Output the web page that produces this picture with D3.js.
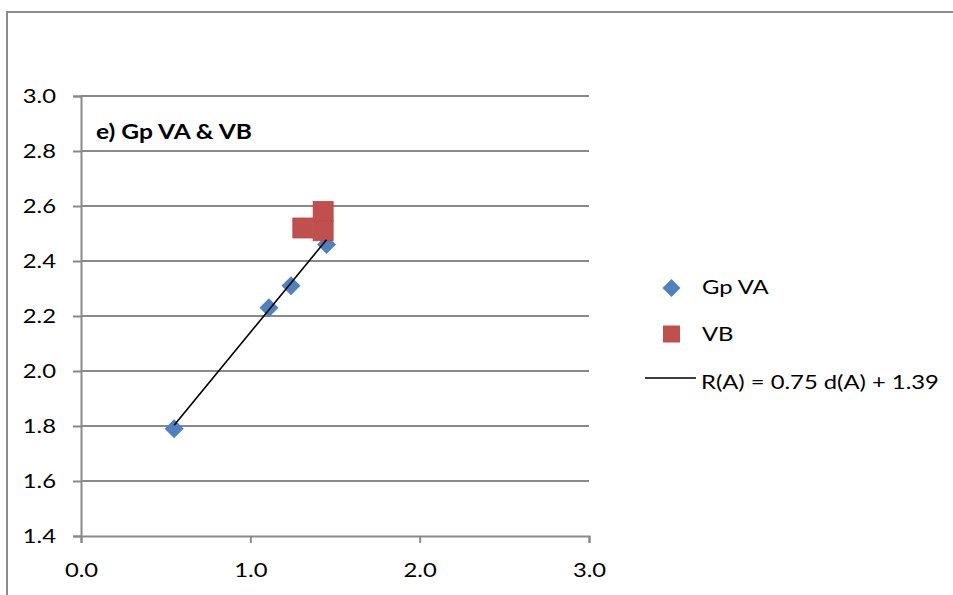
<!DOCTYPE html>
<html>
<head>
<meta charset="utf-8">
<script src="https://cdn.jsdelivr.net/npm/d3@7"></script>
<style>
  html, body { margin: 0; padding: 0; background: #fff; }
  svg { display: block; font-family: Lato, "Open Sans", sans-serif; }
</style>
</head>
<body>
<svg id="chart" width="953" height="595"></svg>
<script>
// Group VA and VB: R(A) plotted against d(A)
const vaD = [0.55, 1.11, 1.24, 1.45];
const vaR = [1.79, 2.23, 2.31, 2.46];
const vbD = [1.31, 1.43, 1.43];
const vbR = [2.52, 2.58, 2.51];

// Linear fit of the VA group
const fitSlope = 0.75;
const fitIntercept = 1.39;

const xTicks = [0, 1, 2, 3];
const yTicks = [1.4, 1.6, 1.8, 2.0, 2.2, 2.4, 2.6, 2.8, 3.0];

const seriesNames = ["Gp VA", "VB"];
const panelTitle = "e) Gp VA & VB";

const blue = "#4F81BD", red = "#C0504D", grid = "#898989";
const stretch = 1.19; // wide, Calibri-like text proportions

const svg = d3.select("#chart");

// outer chart frame
svg.append("path")
  .attr("d", "M7,595 L7,12 L953,12")
  .attr("fill", "none").attr("stroke", "#8c8c8c").attr("stroke-width", 2);

const x = d3.scaleLinear().domain([0, 3]).range([81, 589]);
const y = d3.scaleLinear().domain([1.4, 3.0]).range([536, 96]);

// horizontal gridlines
svg.append("g").selectAll("line")
  .data(yTicks.slice(1))
  .join("line")
  .attr("x1", x(0)).attr("x2", x(3))
  .attr("y1", d => y(d)).attr("y2", d => y(d))
  .attr("stroke", grid).attr("stroke-width", 2);

// y axis
const yAxis = svg.append("g")
  .attr("transform", `translate(${x(0)},0)`)
  .call(d3.axisLeft(y).tickValues(yTicks).tickFormat(d3.format(".1f")).tickSize(8).tickPadding(13));
yAxis.select(".domain").attr("stroke", grid).attr("stroke-width", 2);
yAxis.selectAll(".tick line").attr("stroke", grid).attr("stroke-width", 2);
yAxis.selectAll(".tick text")
  .attr("font-family", "Lato, sans-serif").attr("font-size", 20).attr("fill", "#000")
  .attr("transform", `scale(${stretch},1)`);

// x axis
const xAxis = svg.append("g")
  .attr("transform", `translate(0,${y(1.4)})`)
  .call(d3.axisBottom(x).tickValues(xTicks).tickFormat(d3.format(".1f")).tickSize(7).tickPadding(20));
xAxis.select(".domain").attr("stroke", grid).attr("stroke-width", 2);
xAxis.selectAll(".tick line").attr("stroke", grid).attr("stroke-width", 2);
xAxis.selectAll(".tick text")
  .attr("font-family", "Lato, sans-serif").attr("font-size", 20).attr("fill", "#000")
  .attr("transform", `scale(${stretch},1)`);

// helper: stretched text placed at (tx, ty)
function label(parent, tx, ty, str, size, weight) {
  return parent.append("text")
    .attr("transform", `translate(${tx},${ty}) scale(${stretch},1)`)
    .attr("font-size", size)
    .attr("font-weight", weight || "normal")
    .attr("fill", "#000")
    .text(str);
}

// panel title
label(svg, 96, 139, panelTitle, 20, "bold").attr("transform", `translate(96,139) scale(1.23,1)`);

// VA diamonds
svg.append("g").selectAll("path")
  .data(vaD.map((d, i) => [d, vaR[i]]))
  .join("path")
  .attr("d", d3.symbol().type(d3.symbolSquare).size(180))
  .attr("transform", d => `translate(${x(d[0])},${y(d[1])}) rotate(45)`)
  .attr("fill", blue);

// VB squares
const sq = 20;
svg.append("g").selectAll("rect")
  .data(vbD.map((d, i) => [d, vbR[i]]))
  .join("rect")
  .attr("x", d => x(d[0]) - sq / 2).attr("y", d => y(d[1]) - sq / 2)
  .attr("width", sq).attr("height", sq)
  .attr("fill", red).attr("stroke", "#b84845").attr("stroke-width", 0.8);

// trend line over the VA range
const dMin = d3.min(vaD), dMax = d3.max(vaD);
svg.append("line")
  .attr("x1", x(dMin)).attr("y1", y(fitSlope * dMin + fitIntercept))
  .attr("x2", x(dMax)).attr("y2", y(fitSlope * dMax + fitIntercept))
  .attr("stroke", "#000").attr("stroke-width", 1.6);

// legend
const lg = svg.append("g");
lg.append("path")
  .attr("d", d3.symbol().type(d3.symbolSquare).size(162))
  .attr("transform", "translate(671.5,288) rotate(45)")
  .attr("fill", blue);
label(lg, 702, 294, seriesNames[0], 20);

lg.append("rect")
  .attr("x", 663).attr("y", 325.5).attr("width", 17).attr("height", 17)
  .attr("fill", red);
label(lg, 702, 341, seriesNames[1], 20);

lg.append("line")
  .attr("x1", 645).attr("x2", 696).attr("y1", 378).attr("y2", 378)
  .attr("stroke", "#000").attr("stroke-width", 1.6);
label(lg, 701, 389, `R(A) = ${fitSlope.toFixed(2)} d(A) + ${fitIntercept.toFixed(2)}`, 20);
</script>
</body>
</html>
